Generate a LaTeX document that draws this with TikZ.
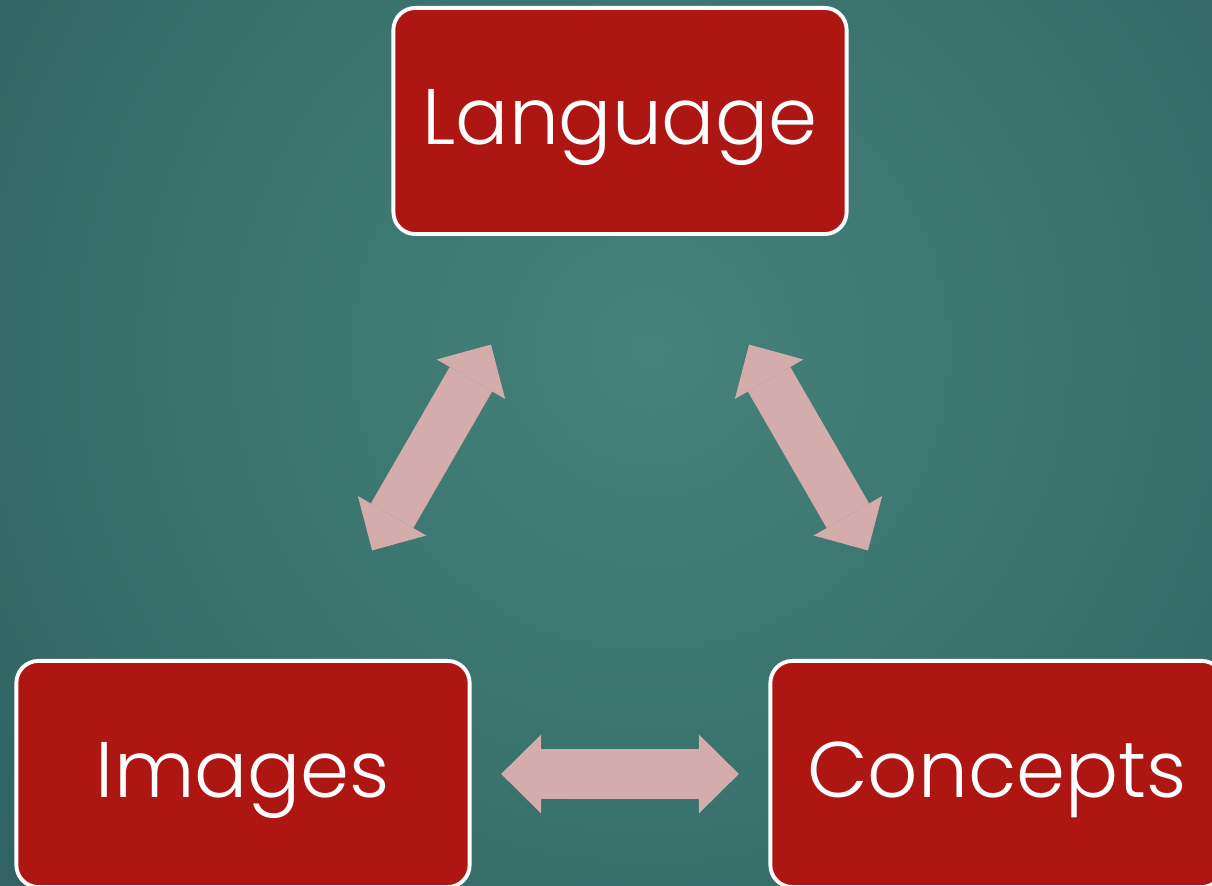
\documentclass[tikz,border=0pt]{standalone}
\usepackage{fontspec}
\usepackage{tikz}
\usetikzlibrary{arrows.meta}
\setmainfont{Poppins Light}
\definecolor{boxred}{HTML}{AE1614}
\definecolor{arrowpink}{HTML}{D3ACAB}
\definecolor{teallight}{HTML}{45837A}
\definecolor{tealdark}{HTML}{285759}

\begin{document}
\begin{tikzpicture}
[x=0.01cm, y=-0.01cm,
box/.style={draw=white, line width=1.1pt, fill=boxred, rounded corners=0.22cm,
	minimum width=4.53cm, minimum height=2.26cm, text=white,
	text height=0.6cm, text depth=0.14cm,
	font=\fontsize{22.4}{26}\selectfont},
link/.style={arrowpink, line width=0.49cm, shorten <=2.58cm, shorten >=2.58cm,
	{Triangle[length=0.4cm 0 0, width=0.79cm 0 0, line width=0pt]}-{Triangle[length=0.4cm 0 0, width=0.79cm 0 0, line width=0pt]}}]
\useasboundingbox (0,0) rectangle (1212,886);
\clip (0,0) rectangle (1212,886);
\shade[inner color=teallight, outer color=tealdark] (-500,-800) rectangle (1800,1500);
\node[box] (lang) at (620,121) {Language};
\node[box] (imgs) at (243,774) {Images};
\node[box] (conc) at (997,774) {Concepts};
\draw[link] (imgs.center) -- (lang.center);
\draw[link] (lang.center) -- (conc.center);
\draw[link] (imgs.center) -- (conc.center);
\end{tikzpicture}
\end{document}
